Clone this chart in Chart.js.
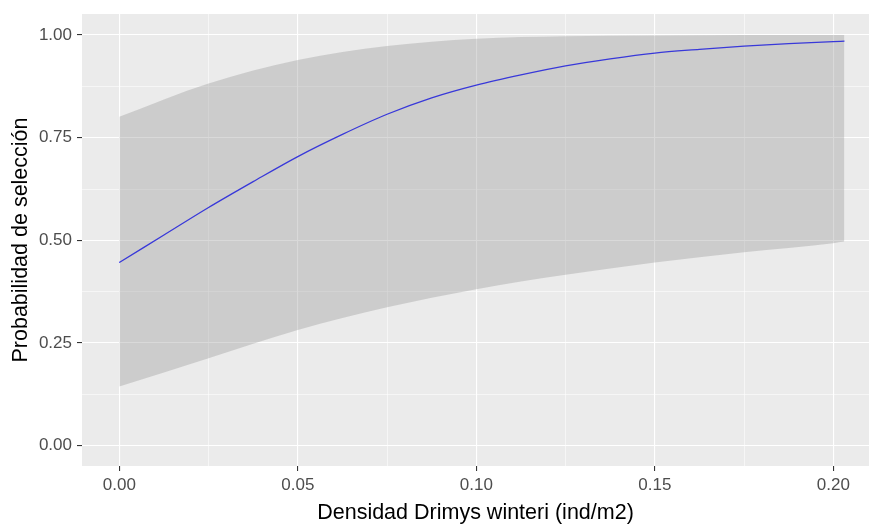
<!DOCTYPE html>
<html>
<head>
<meta charset="utf-8">
<script src="https://cdn.jsdelivr.net/npm/chart.js@4.4.1/dist/chart.umd.min.js"></script>
<style>
  body { margin: 0; background: #fff; }
  #wrap { width: 869px; height: 524px; }
</style>
</head>
<body>
<div id="wrap"><canvas id="probChart" width="869" height="524"></canvas></div>
<script>
// values
const densidadBanda = [0, 0.025, 0.05, 0.075, 0.1, 0.125, 0.15, 0.175, 0.2, 0.2031];
const inferior = [0.144, 0.213, 0.282, 0.337, 0.381, 0.416, 0.446, 0.471, 0.493, 0.497];
const superior = [0.801, 0.882, 0.939, 0.973, 0.991, 0.997, 0.999, 1.0, 1.0, 1.0];

const densidadAjuste = [0, 0.0125, 0.025, 0.0375, 0.05, 0.0625, 0.075, 0.0875, 0.1, 0.1125,
                        0.125, 0.1375, 0.15, 0.1625, 0.175, 0.1875, 0.2, 0.2031];
const ajuste = [0.446, 0.513, 0.580, 0.643, 0.704, 0.758, 0.807, 0.847, 0.878, 0.903,
                0.925, 0.942, 0.956, 0.965, 0.973, 0.979, 0.984, 0.985];

const xMajor = [0, 0.05, 0.1, 0.15, 0.2];
const xMinor = [0.025, 0.075, 0.125, 0.175];
const xTickLabels = ['0.00', '0.05', '0.10', '0.15', '0.20'];
const yMajor = [0, 0.25, 0.5, 0.75, 1];
const yMinor = [0.125, 0.375, 0.625, 0.875];
const yTickLabels = ['0.00', '0.25', '0.50', '0.75', '1.00'];

document.addEventListener('DOMContentLoaded', function() {
    const fontFamily = '"Liberation Sans", Arial, sans-serif';

    function points(xs, ys) {
        return xs.map((x, i) => ({ x: x, y: ys[i] }));
    }

    function isMajor(list, v) {
        return list.some(m => Math.abs(m - v) < 1e-9);
    }

    function axisOptions(major, minor, labels, titleText, isX) {
        const all = major.concat(minor).sort((a, b) => a - b);
        return {
            type: 'linear',
            min: isX ? -0.01045 : -0.0494,
            max: isX ? 0.21 : 1.0511,
            afterBuildTicks: function(scale) {
                scale.ticks = all.map(v => ({ value: v }));
            },
            afterFit: function(scale) {
                if (isX) scale.height = 58; else scale.width = 82;
                scale.paddingLeft = 0;
                scale.paddingRight = 0;
                scale.paddingTop = 0;
                scale.paddingBottom = 0;
            },
            border: { display: false },
            grid: {
                color: '#ffffff',
                lineWidth: ctx => isMajor(major, ctx.tick.value) ? 1.1 : 0.55,
                tickColor: ctx => isMajor(major, ctx.tick.value) ? '#333333' : 'rgba(0,0,0,0)',
                tickLength: 5,
                tickWidth: 1.1
            },
            ticks: {
                autoSkip: false,
                maxRotation: 0,
                padding: isX ? 4 : 5,
                color: '#4D4D4D',
                font: { family: fontFamily, size: 17 },
                callback: function(value) {
                    const idx = major.findIndex(m => Math.abs(m - value) < 1e-9);
                    return idx >= 0 ? labels[idx] : '';
                }
            },
            title: {
                display: true,
                text: titleText,
                color: '#000000',
                font: { family: fontFamily, size: 21.5, lineHeight: 1 },
                padding: isX ? { top: 0, bottom: 0 } : { top: 10, bottom: 0 }
            }
        };
    }

    const panelBackground = {
        id: 'panelBackground',
        beforeDraw: function(chart) {
            const ctx = chart.ctx;
            const a = chart.chartArea;
            ctx.save();
            ctx.fillStyle = '#ffffff';
            ctx.fillRect(0, 0, chart.width, chart.height);
            ctx.fillStyle = '#EBEBEB';
            ctx.fillRect(a.left, a.top, a.right - a.left, a.bottom - a.top);
            ctx.restore();
        }
    };

    const ctx = document.getElementById('probChart').getContext('2d');
    new Chart(ctx, {
        type: 'line',
        data: {
            datasets: [{
                label: 'inferior',
                data: points(densidadBanda, inferior),
                borderWidth: 0,
                borderColor: 'rgba(0,0,0,0)',
                pointRadius: 0,
                fill: false,
                cubicInterpolationMode: 'monotone'
            }, {
                label: 'superior',
                data: points(densidadBanda, superior),
                borderWidth: 0,
                borderColor: 'rgba(0,0,0,0)',
                backgroundColor: 'rgba(153,153,153,0.37)',
                pointRadius: 0,
                fill: '-1',
                cubicInterpolationMode: 'monotone'
            }, {
                label: 'ajuste',
                data: points(densidadAjuste, ajuste),
                borderColor: '#0000FF',
                borderWidth: 1.3,
                pointRadius: 0,
                fill: false,
                cubicInterpolationMode: 'monotone'
            }]
        },
        options: {
            responsive: false,
            animation: false,
            layout: { padding: { top: 14, right: 0, bottom: 0, left: 0 } },
            plugins: {
                legend: { display: false },
                tooltip: { enabled: false }
            },
            scales: {
                x: axisOptions(xMajor, xMinor, xTickLabels, 'Densidad Drimys winteri (ind/m2)', true),
                y: axisOptions(yMajor, yMinor, yTickLabels, 'Probabilidad de selección', false)
            }
        },
        plugins: [panelBackground]
    });
});
</script>
</body>
</html>
